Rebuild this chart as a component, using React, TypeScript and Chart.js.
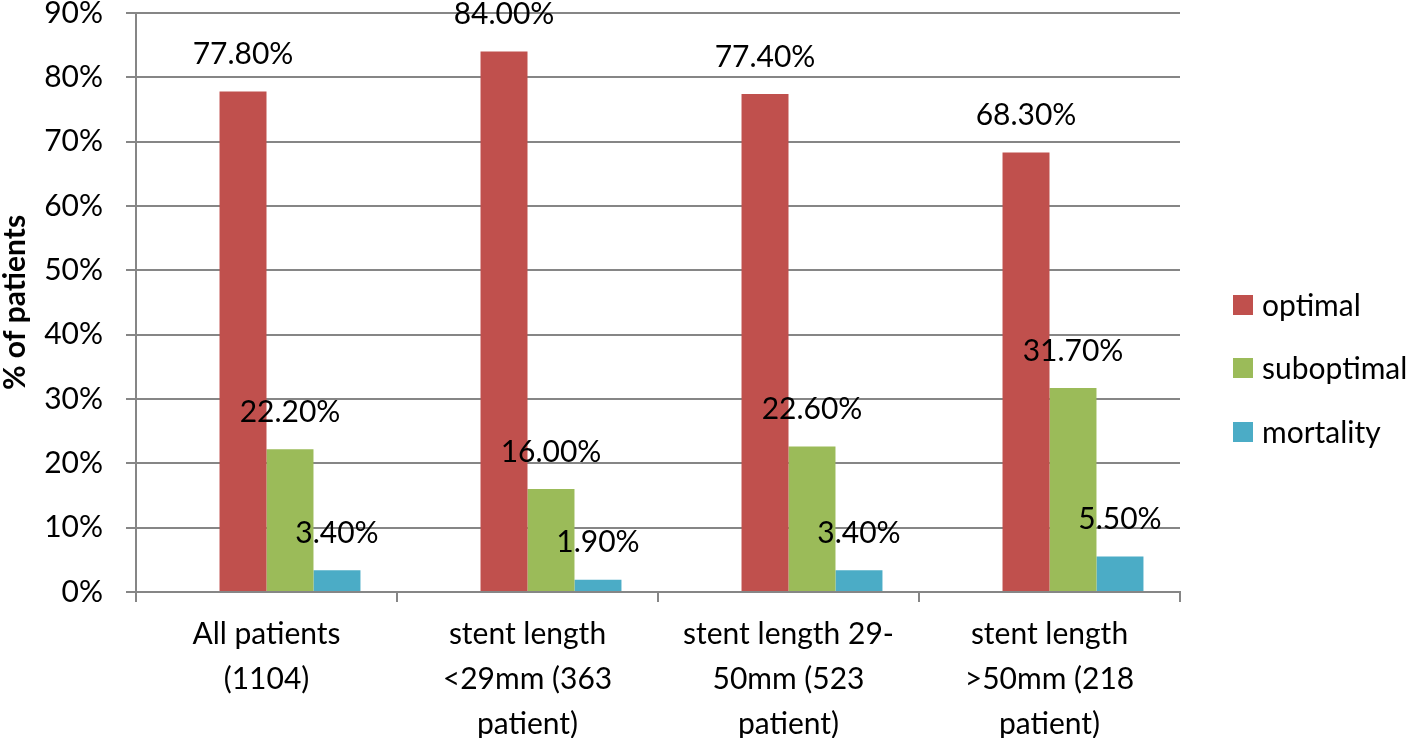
import React, { useEffect, useRef } from "react";
import { Chart, registerables } from "chart.js";

Chart.register(...registerables);

const categories: string[][] = [
  ["All patients", "(1104)"],
  ["stent length", "<29mm (363", "patient)"],
  ["stent length 29-", "50mm (523", "patient)"],
  ["stent length", ">50mm (218", "patient)"],
];
const seriesNames = ["optimal", "suboptimal", "mortality"];
const optimal = [77.8, 84.0, 77.4, 68.3];
const suboptimal = [22.2, 16.0, 22.6, 31.7];
const mortality = [3.4, 1.9, 3.4, 5.5];
const colors = ["#C0504D", "#9BBB59", "#4BACC6"];
const yTicks = [0, 10, 20, 30, 40, 50, 60, 70, 80, 90];

const FONT = "Lato, 'Open Sans', sans-serif";

const labelPlugin = {
  id: "valueLabels",
  afterDatasetsDraw(chart: any) {
    const ctx = chart.ctx;
    ctx.save();
    ctx.font = `30px ${FONT}`;
    ctx.fillStyle = "#000";
    ctx.textAlign = "center";
    ctx.textBaseline = "middle";
    chart.data.datasets.forEach((ds: any, di: number) => {
      if (ds.hidden_empty) return;
      const meta = chart.getDatasetMeta(di);
      meta.data.forEach((el: any, i: number) => {
        const v = ds.data[i];
        if (v == null) return;
        ctx.fillText(v.toFixed(2) + "%", el.x, el.y - 37);
      });
    });
    // legend
    ctx.textAlign = "left";
    const ys = [305, 368, 432];
    seriesNames.forEach((n, i) => {
      ctx.fillStyle = colors[i];
      ctx.fillRect(1233, ys[i] - 10, 20, 20);
      ctx.fillStyle = "#000";
      ctx.fillText(n, 1262, ys[i] + 1);
    });
    ctx.restore();
  },
};

export default function App() {
  const ref = useRef<HTMLCanvasElement>(null);
  useEffect(() => {
    if (!ref.current) return;
    const gridColor = "#868686";
    const chart = new Chart(ref.current, {
      type: "bar",
      data: {
        labels: categories,
        datasets: [
          { label: "", data: [null, null, null, null], backgroundColor: "transparent", hidden_empty: true } as any,
          { label: seriesNames[0], data: optimal, backgroundColor: colors[0] },
          { label: seriesNames[1], data: suboptimal, backgroundColor: colors[1] },
          { label: seriesNames[2], data: mortality, backgroundColor: colors[2] },
        ],
      },
      options: {
        animation: false,
        responsive: true,
        maintainAspectRatio: false,
        layout: { padding: { left: 0, right: 238, top: 13, bottom: 0 } },
        datasets: { bar: { categoryPercentage: 0.72, barPercentage: 1 } },
        plugins: { legend: { display: false }, tooltip: { enabled: false } },
        scales: {
          x: {
            grid: {
              offset: true,
              drawOnChartArea: false,
              drawTicks: true,
              tickLength: 10,
              color: gridColor,
              lineWidth: 2,
            },
            border: { color: gridColor, width: 2 },
            ticks: {
              color: "#000",
              font: { family: FONT, size: 30, lineHeight: 1.5 },
              padding: 10,
              maxRotation: 0,
              autoSkip: false,
            },
            afterFit: (s: any) => { s.height = 146; s.paddingLeft = 0; s.paddingRight = 0; },
          },
          y: {
            min: 0,
            max: 90,
            afterBuildTicks: (s: any) => { s.ticks = yTicks.map((v) => ({ value: v })); },
            grid: { color: gridColor, lineWidth: 2, tickLength: 10, drawTicks: true },
            border: { color: gridColor, width: 2 },
            ticks: {
              color: "#000",
              font: { family: FONT, size: 30 },
              padding: 23,
              callback: (v: any) => v + "%",
            },
            title: {
              display: true,
              text: "% of patients",
              color: "#000",
              font: { family: FONT, size: 30, weight: "bold", lineHeight: 1 },
              padding: 0,
            },
            afterFit: (s: any) => { s.width = 136; s.paddingTop = 0; s.paddingBottom = 0; },
          },
        },
      },
      plugins: [labelPlugin],
    });
    return () => chart.destroy();
  }, []);
  return (
    <div style={{ position: "fixed", left: 0, top: 0, width: 1418, height: 738 }}>
      <canvas ref={ref} />
    </div>
  );
}
